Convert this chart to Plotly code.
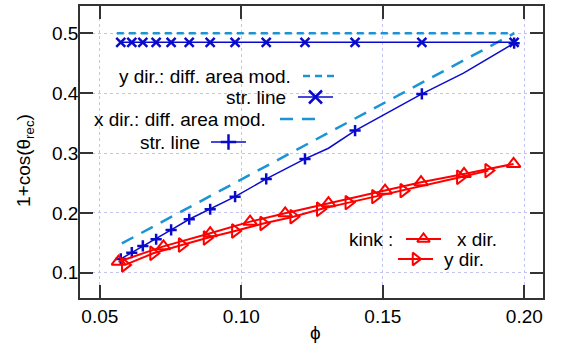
import plotly.graph_objects as go

# ---------------- data ----------------
# straight-line model, markers
phi_str = [0.0574, 0.0613, 0.0652, 0.0699, 0.0752, 0.0816, 0.0890, 0.0978,
           0.1088, 0.1225, 0.1402, 0.1638, 0.1964]
ydir_str = [0.485, 0.485, 0.485, 0.485, 0.485, 0.485, 0.485, 0.485,
            0.485, 0.485, 0.485, 0.485, 0.485]
xdir_str = [0.123, 0.1334, 0.1447, 0.1559, 0.1714, 0.1893, 0.2060, 0.2271,
            0.2567, 0.2901, 0.3375, 0.3988, 0.4836]
# x dir. straight line: line passes through extra (unmarked) points
phi_xdir_line = [0.0574, 0.0613, 0.0652, 0.0699, 0.0752, 0.0816, 0.0890, 0.0978,
                 0.1088, 0.1225, 0.1308, 0.1402, 0.1638, 0.1785, 0.1964]
xdir_line = [0.123, 0.1334, 0.1447, 0.1559, 0.1714, 0.1893, 0.2060, 0.2271,
             0.2567, 0.2901, 0.3080, 0.3375, 0.3988, 0.4335, 0.4836]

# difference-area model (dashed)
phi_dam_y = [0.0560, 0.1964]
ydir_dam = [0.500, 0.500]
phi_dam_x = [0.0578, 0.1000, 0.1500, 0.1964]
xdir_dam = [0.149, 0.256, 0.3825, 0.500]

# kink model
phi_kink_x = [0.0566, 0.0725, 0.0890, 0.1031, 0.1155, 0.1308, 0.1508, 0.1635,
              0.1787, 0.1962]
kink_x = [0.1184, 0.1440, 0.1659, 0.1853, 0.1993, 0.2161, 0.2371, 0.2512,
          0.2650, 0.2818]
phi_kink_y = [0.0589, 0.0689, 0.0790, 0.0878, 0.0978, 0.1078, 0.1184, 0.1278,
              0.1379, 0.1473, 0.1573, 0.1773, 0.1873]
kink_y = [0.1130, 0.1324, 0.1463, 0.1580, 0.1697, 0.1823, 0.1936, 0.2060,
          0.2171, 0.2271, 0.2371, 0.2595, 0.2706]

x_ticks = [0.05, 0.10, 0.15, 0.20]
x_ticktext = ["0.05", "0.10", "0.15", "0.20"]
y_ticks = [0.1, 0.2, 0.3, 0.4, 0.5]
y_ticktext = ["0.1", "0.2", "0.3", "0.4", "0.5"]

# ---------------- styles ----------------
BLUE = "#0a0acc"
CYAN = "#1a94d4"
RED = "#ff0000"
FONT = "Liberation Sans, Arial, sans-serif"
FS = 19
SHORT_DASH = "7px,5px"
LONG_DASH = "13px,9px"

fig = go.Figure()

fig.add_trace(go.Scatter(x=phi_dam_y, y=ydir_dam, mode="lines",
                         line=dict(color=CYAN, width=2.5, dash=SHORT_DASH)))
fig.add_trace(go.Scatter(x=phi_dam_x, y=xdir_dam, mode="lines",
                         line=dict(color=CYAN, width=2.5, dash=LONG_DASH)))
fig.add_trace(go.Scatter(x=phi_str, y=ydir_str, mode="lines+markers",
                         line=dict(color=BLUE, width=1.5),
                         marker=dict(symbol="x-thin", size=9,
                                     line=dict(color=BLUE, width=2.5))))
fig.add_trace(go.Scatter(x=phi_xdir_line, y=xdir_line, mode="lines",
                         line=dict(color=BLUE, width=1.5)))
fig.add_trace(go.Scatter(x=phi_str, y=xdir_str, mode="markers",
                         marker=dict(symbol="cross-thin", size=8,
                                     line=dict(color=BLUE, width=2.5))))
fig.add_trace(go.Scatter(x=phi_kink_x, y=kink_x, mode="lines+markers",
                         line=dict(color=RED, width=2),
                         marker=dict(symbol="triangle-up-open", size=12, color=RED,
                                     line=dict(color=RED, width=2))))
fig.add_trace(go.Scatter(x=phi_kink_y, y=kink_y, mode="lines+markers",
                         line=dict(color=RED, width=2),
                         marker=dict(symbol="triangle-right-open", size=12, color=RED,
                                     line=dict(color=RED, width=2))))

# ---------------- key (drawn on a hidden pixel-unit overlay axis) ----------------
def key_line(x0, x1, y, color, width, dash="solid", symbol=None, size=10, mw=2):
    fig.add_trace(go.Scatter(x=[x0, x1], y=[y, y], mode="lines", xaxis="x2", yaxis="y2",
                             line=dict(color=color, width=width, dash=dash)))
    if symbol:
        fig.add_trace(go.Scatter(x=[(x0 + x1) / 2], y=[y], mode="markers",
                                 xaxis="x2", yaxis="y2",
                                 marker=dict(symbol=symbol, size=size, color=color,
                                             line=dict(color=color, width=mw))))

def key_text(x, y, text, anchor="right"):
    fig.add_annotation(x=x, y=y, xref="x2", yref="y2", text=text, showarrow=False,
                       xanchor=anchor, yanchor="middle",
                       font=dict(family=FONT, size=FS, color="black"))

key_text(293, 76, "y dir.: diff. area mod.")
key_line(303, 338, 76, CYAN, 2.5, SHORT_DASH)
key_text(288, 97, "str. line")
key_line(298, 333, 97, BLUE, 1.5, symbol="x-thin", size=13, mw=2.5)
key_text(268, 119, "x dir.: diff. area mod.")
key_line(280, 317, 119, CYAN, 2.5, LONG_DASH)
key_text(202, 142, "str. line")
key_line(211, 246, 142, BLUE, 1.5, symbol="cross-thin", size=11, mw=2.5)
key_text(395, 239, "kink :")
key_line(406, 441, 239, RED, 2, symbol="triangle-up-open", size=11, mw=2)
key_text(455, 239, "x dir.", anchor="left")
key_line(398, 433, 259, RED, 2, symbol="triangle-right-open", size=11, mw=2)
key_text(442, 259, "y dir.", anchor="left")

# ---------------- axis titles ----------------
fig.add_annotation(x=(25 - 80) / 463, y=(298 - 161) / 292, xref="paper", yref="paper",
                   text="1+cos(θ<sub>rec</sub>)", textangle=-90, showarrow=False,
                   xanchor="center", yanchor="middle",
                   font=dict(family=FONT, size=FS, color="black"))
fig.add_annotation(x=(315 - 80) / 463, y=(298 - 332) / 292, xref="paper", yref="paper",
                   text="ϕ", showarrow=False, xanchor="center", yanchor="middle",
                   font=dict(family=FONT, size=FS, color="black"))

axis_common = dict(showline=True, linecolor="#333333", linewidth=1.5, mirror="ticks",
                   ticks="inside", ticklen=13, tickwidth=1.5, tickcolor="#333333",
                   showgrid=True, gridcolor="#c4c4f4", gridwidth=1, griddash="dot",
                   zeroline=False, automargin=False,
                   tickfont=dict(family=FONT, size=FS, color="black"))

fig.update_layout(
    width=563, height=349,
    margin=dict(l=80, r=20, t=6, b=51),
    plot_bgcolor="white", paper_bgcolor="white",
    showlegend=False,
    font=dict(family=FONT, size=FS, color="black"),
    xaxis=dict(range=[0.0430, 0.2066], tickvals=x_ticks, ticktext=x_ticktext,
               **axis_common),
    yaxis=dict(range=[0.0577, 0.5457], tickvals=y_ticks, ticktext=y_ticktext,
               ticklabelstandoff=-4, **axis_common),
    xaxis2=dict(range=[80, 543], overlaying="x", anchor="y2", visible=False),
    yaxis2=dict(range=[298, 6], overlaying="y", anchor="x2", visible=False),
)

fig.write_html("out.html", config={"displayModeBar": False},
               post_script="document.body.style.margin='0';document.body.style.overflow='hidden';")
